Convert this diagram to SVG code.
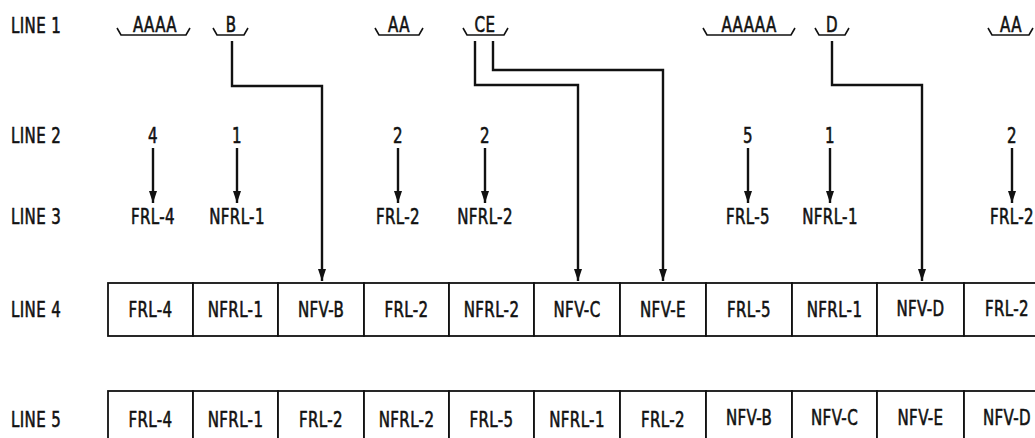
<svg xmlns="http://www.w3.org/2000/svg" width="1035" height="438" viewBox="0 0 1035 438">
<style>
text{font-family:"DejaVu Sans Condensed","DejaVu Sans","Liberation Sans",sans-serif;font-stretch:condensed;font-size:22px;fill:#111;stroke:#111;stroke-width:0.6;letter-spacing:0.5px}
.c{text-anchor:middle}
.cell{fill:#fff;stroke:#111;stroke-width:1.8}
.br{fill:none;stroke:#111;stroke-width:1.6}
.con{fill:none;stroke:#111;stroke-width:2.4;marker-end:url(#ah)}
</style>
<defs>
<marker id="ah" markerUnits="userSpaceOnUse" markerWidth="12" markerHeight="8" viewBox="0 0 12 8" refX="12" refY="4" orient="auto">
<path d="M0,0 L12,4 L0,8 Z" fill="#111"/>
</marker>
</defs>

<g id="labels">
<text transform="translate(11,33) scale(0.76,1)">LINE 1</text>
<text transform="translate(11,143) scale(0.76,1)">LINE 2</text>
<text transform="translate(11,224) scale(0.76,1)">LINE 3</text>
<text transform="translate(11,317) scale(0.76,1)">LINE 4</text>
<text transform="translate(11,427) scale(0.76,1)">LINE 5</text>
</g>

<g id="line1">
<g id="b-aaaa"><path class="br" d="M117,28 L121,35 H186 L190,28"/><text class="c" transform="translate(155,32) scale(0.76,1)">AAAA</text></g>
<g id="b-b"><path class="br" d="M213,28 L217,35 H244 L248,28"/><text class="c" transform="translate(231,32) scale(0.76,1)">B</text></g>
<g id="b-aa1"><path class="br" d="M375,28 L379,35 H419 L423,28"/><text class="c" transform="translate(399,32) scale(0.76,1)">AA</text></g>
<g id="b-ce"><path class="br" d="M463,28 L467,35 H504 L508,28"/><text class="c" transform="translate(485,32) scale(0.76,1)">CE</text></g>
<g id="b-aaaaa"><path class="br" d="M703,28 L707,35 H791 L795,28"/><text class="c" transform="translate(749,32) scale(0.76,1)">AAAAA</text></g>
<g id="b-d"><path class="br" d="M815,28 L819,35 H845 L849,28"/><text class="c" transform="translate(832,32) scale(0.76,1)">D</text></g>
<g id="b-aa2"><path class="br" d="M988,28 L992,35 H1029 L1033,28"/><text class="c" transform="translate(1011,32) scale(0.76,1)">AA</text></g>
</g>

<g id="line2">
<text class="c" transform="translate(153,143) scale(0.76,1)">4</text>
<text class="c" transform="translate(237,143) scale(0.76,1)">1</text>
<text class="c" transform="translate(398,143) scale(0.76,1)">2</text>
<text class="c" transform="translate(485,143) scale(0.76,1)">2</text>
<text class="c" transform="translate(748,143) scale(0.76,1)">5</text>
<text class="c" transform="translate(830,143) scale(0.76,1)">1</text>
<text class="c" transform="translate(1012,143) scale(0.76,1)">2</text>
</g>

<g id="line3">
<text class="c" transform="translate(153,224) scale(0.76,1)">FRL-4</text>
<text class="c" transform="translate(237,224) scale(0.76,1)">NFRL-1</text>
<text class="c" transform="translate(398,224) scale(0.76,1)">FRL-2</text>
<text class="c" transform="translate(485,224) scale(0.76,1)">NFRL-2</text>
<text class="c" transform="translate(748,224) scale(0.76,1)">FRL-5</text>
<text class="c" transform="translate(830,224) scale(0.76,1)">NFRL-1</text>
<text class="c" transform="translate(1012,224) scale(0.76,1)">FRL-2</text>
</g>

<g id="line4">
<g id="l4-1"><rect class="cell" x="108" y="283" width="85" height="53"/><text class="c" transform="translate(150.5,317) scale(0.76,1)">FRL-4</text></g>
<g id="l4-2"><rect class="cell" x="193" y="283" width="85" height="53"/><text class="c" transform="translate(235.5,317) scale(0.76,1)">NFRL-1</text></g>
<g id="l4-3"><rect class="cell" x="278" y="283" width="86" height="53"/><text class="c" transform="translate(321,317) scale(0.76,1)">NFV-B</text></g>
<g id="l4-4"><rect class="cell" x="364" y="283" width="85" height="53"/><text class="c" transform="translate(406.5,317) scale(0.76,1)">FRL-2</text></g>
<g id="l4-5"><rect class="cell" x="449" y="283" width="85" height="53"/><text class="c" transform="translate(491.5,317) scale(0.76,1)">NFRL-2</text></g>
<g id="l4-6"><rect class="cell" x="534" y="283" width="86" height="53"/><text class="c" transform="translate(577,317) scale(0.76,1)">NFV-C</text></g>
<g id="l4-7"><rect class="cell" x="620" y="283" width="86" height="53"/><text class="c" transform="translate(663,317) scale(0.76,1)">NFV-E</text></g>
<g id="l4-8"><rect class="cell" x="706" y="283" width="86" height="53"/><text class="c" transform="translate(749,317) scale(0.76,1)">FRL-5</text></g>
<g id="l4-9"><rect class="cell" x="792" y="283" width="85" height="53"/><text class="c" transform="translate(834.5,317) scale(0.76,1)">NFRL-1</text></g>
<g id="l4-10"><rect class="cell" x="877" y="283" width="87" height="53"/><text class="c" transform="translate(920.5,316) scale(0.76,1)">NFV-D</text></g>
<g id="l4-11"><rect class="cell" x="964" y="283" width="86" height="53"/><text class="c" transform="translate(1007,316) scale(0.76,1)">FRL-2</text></g>
</g>

<g id="line5">
<g id="l5-1"><rect class="cell" x="108" y="391" width="85" height="55"/><text class="c" transform="translate(150.5,427) scale(0.76,1)">FRL-4</text></g>
<g id="l5-2"><rect class="cell" x="193" y="391" width="85" height="55"/><text class="c" transform="translate(235.5,427) scale(0.76,1)">NFRL-1</text></g>
<g id="l5-3"><rect class="cell" x="278" y="391" width="86" height="55"/><text class="c" transform="translate(321,427) scale(0.76,1)">FRL-2</text></g>
<g id="l5-4"><rect class="cell" x="364" y="391" width="85" height="55"/><text class="c" transform="translate(406.5,427) scale(0.76,1)">NFRL-2</text></g>
<g id="l5-5"><rect class="cell" x="449" y="391" width="85" height="55"/><text class="c" transform="translate(491.5,427) scale(0.76,1)">FRL-5</text></g>
<g id="l5-6"><rect class="cell" x="534" y="391" width="86" height="55"/><text class="c" transform="translate(577,427) scale(0.76,1)">NFRL-1</text></g>
<g id="l5-7"><rect class="cell" x="620" y="391" width="86" height="55"/><text class="c" transform="translate(663,427) scale(0.76,1)">FRL-2</text></g>
<g id="l5-8"><rect class="cell" x="706" y="391" width="86" height="55"/><text class="c" transform="translate(749,425) scale(0.76,1)">NFV-B</text></g>
<g id="l5-9"><rect class="cell" x="792" y="391" width="85" height="55"/><text class="c" transform="translate(834.5,425) scale(0.76,1)">NFV-C</text></g>
<g id="l5-10"><rect class="cell" x="877" y="391" width="87" height="55"/><text class="c" transform="translate(920.5,425) scale(0.76,1)">NFV-E</text></g>
<g id="l5-11"><rect class="cell" x="964" y="391" width="86" height="55"/><text class="c" transform="translate(1007,425) scale(0.76,1)">NFV-D</text></g>
</g>

<g id="connectors">
<path class="con" d="M153,148 V203"/>
<path class="con" d="M237,148 V203"/>
<path class="con" d="M398,148 V203"/>
<path class="con" d="M485,148 V203"/>
<path class="con" d="M748,148 V203"/>
<path class="con" d="M830,148 V203"/>
<path class="con" d="M1012,148 V203"/>
<path class="con" d="M232,41 V86 H322 V281"/>
<path class="con" d="M475,41 V85 H578 V281"/>
<path class="con" d="M493,41 V70 H663 V281"/>
<path class="con" d="M832,41 V85 H922 V281"/>
</g>
</svg>
